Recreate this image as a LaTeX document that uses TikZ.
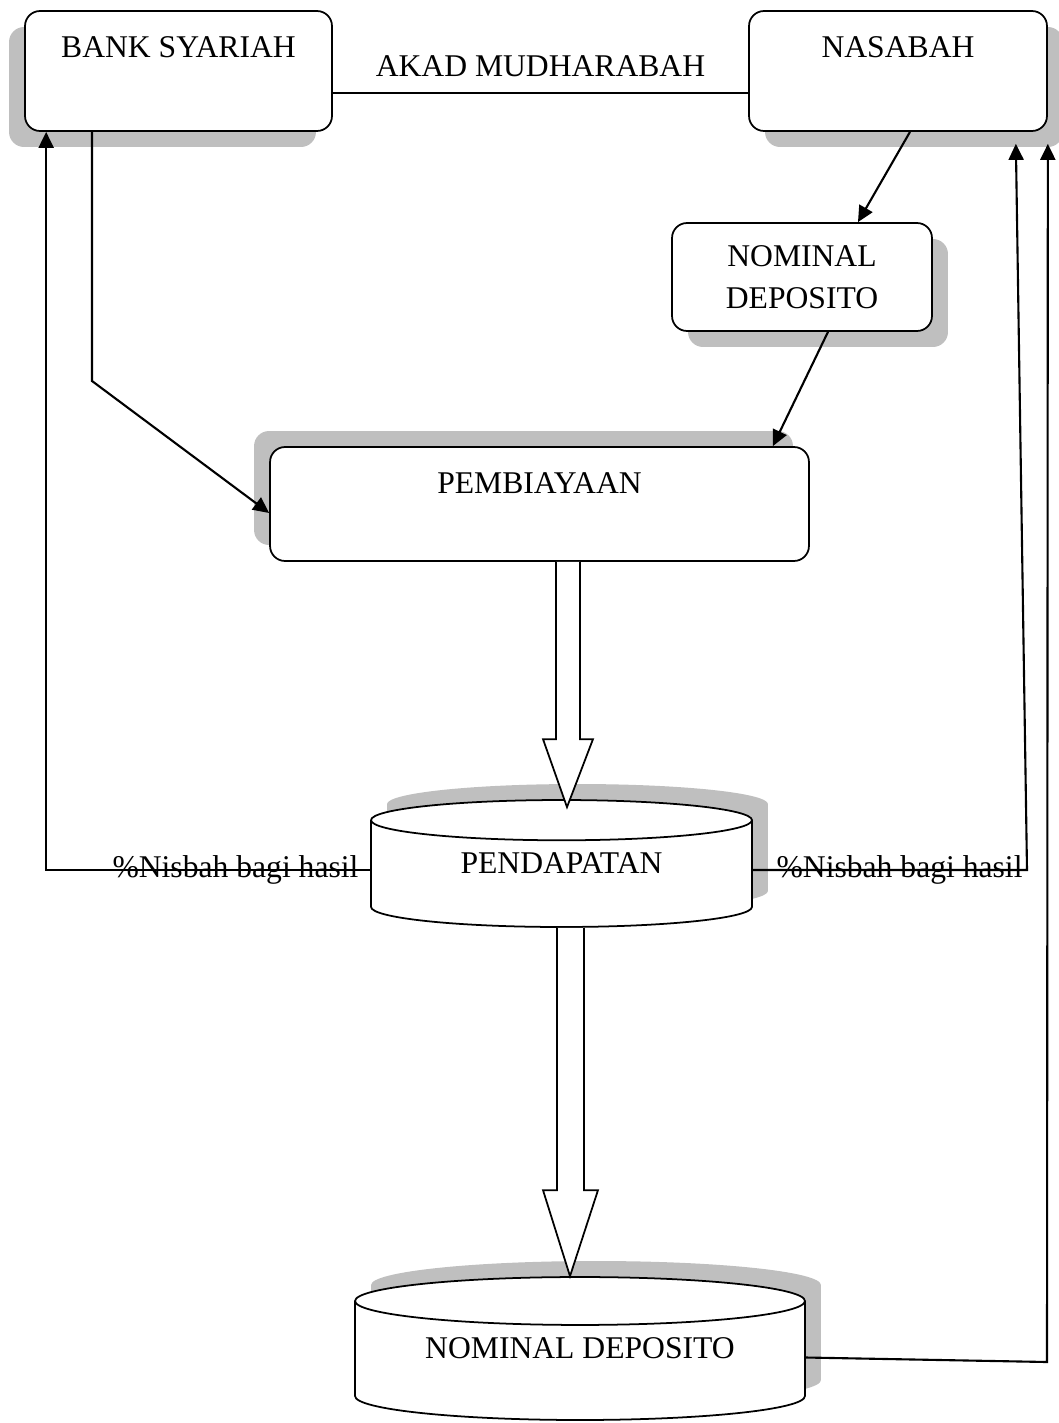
\documentclass[tikz,border=0pt]{standalone}
\usepackage{fontspec}
\setmainfont{Liberation Serif}
\usetikzlibrary{arrows.meta, positioning, calc, shapes.geometric, shadows}

\begin{document}
\begin{tikzpicture}[x=0.02cm, y=-0.02cm, font=\fontsize{18}{24}\selectfont,
  box/.style={draw, line width=1pt, rounded corners=0.3cm, fill=white, align=center},
  topbox/.style={box, inner xsep=0.2cm, inner ysep=0.5cm, text height=0.42cm},
  drum/.style={cylinder, shape border rotate=90, draw, line width=1pt, fill=white, aspect=0.19, inner sep=0.1cm, anchor=shape center},
  shade sw/.style={drop shadow={shadow xshift=-0.32cm, shadow yshift=-0.32cm, fill=black!25, opacity=1}},
  shade se/.style={drop shadow={shadow xshift=0.32cm, shadow yshift=-0.32cm, fill=black!25, opacity=1}},
  shade nw/.style={drop shadow={shadow xshift=-0.32cm, shadow yshift=0.32cm, fill=black!25, opacity=1}},
  shade ne/.style={drop shadow={shadow xshift=0.32cm, shadow yshift=0.32cm, fill=black!25, opacity=1}},
  link/.style={line width=1pt},
  flow/.style={-{Triangle[length=0.32cm, width=0.3cm]}, line width=1.2pt},
  fat/.style={draw, fill=white, line width=1pt}]
\useasboundingbox (0,0) rectangle (1058,1423);

% top row
\node[topbox, shade sw, minimum width=6.14cm, text depth=0.98cm] (bank) at (178.5,71) {BANK SYARIAH};
\node[topbox, shade se, minimum width=5.96cm, text depth=0.98cm] (nasabah) at (898,71) {NASABAH};
\draw[link] ([yshift=-0.44cm]bank.east) -- node[above=0.18cm] (akad) {AKAD MUDHARABAH} ([yshift=-0.44cm]nasabah.west);

% deposito and financing
\node[box, shade se, minimum width=5.2cm, minimum height=2.16cm] (nomdep) at (802,277) {NOMINAL\\DEPOSITO};
\node[topbox, shade nw, minimum width=10.78cm, text depth=0.86cm] (pemb) at (539.5,504) {PEMBIAYAAN};
\draw[flow] ([xshift=0.24cm]nasabah.south) -- ([xshift=1.12cm]nomdep.north);
\draw[flow] ([xshift=0.52cm]nomdep.south) -- ([xshift=-0.74cm]pemb.north east);
\coordinate (bend) at (92,381);
\draw[flow] ([xshift=-1.73cm]bank.south) -- (bend) -- ([yshift=-0.18cm]pemb.west);

% income and result (phantom keeps the drum ends, text sits in the middle)
\node[drum, shade ne, minimum width=7.62cm, minimum height=2.54cm] (pend) at (561.5,863.5) {\phantom{PENDAPATAN}};
\node (pendtext) at (pend.shape center) {PENDAPATAN};
\node[drum, shade ne, aspect=0.15, minimum width=9cm, minimum height=2.86cm] (nomcyl) at (580,1348.5) {\phantom{NOMINAL DEPOSITO}};
\node (nomtext) at (nomcyl.shape center) {NOMINAL DEPOSITO};

\draw[fat] let \p1=([xshift=0.57cm]pemb.south), \p2=([xshift=0.11cm,yshift=-0.16cm]pend.north) in
  (\x1-0.24cm,\y1) -- (\x1-0.24cm,\y2+1.36cm) -- (\x1-0.5cm,\y2+1.36cm) -- (\p2)
  -- (\x1+0.5cm,\y2+1.36cm) -- (\x1+0.24cm,\y2+1.36cm) -- (\x1+0.24cm,\y1);
\draw[fat] let \p1=([xshift=0.18cm]pend.south), \p2=([xshift=-0.2cm]nomcyl.north) in
  (\x1-0.27cm,\y1) -- (\x1-0.27cm,\y2+1.72cm) -- (\x1-0.55cm,\y2+1.72cm) -- (\p2)
  -- (\x1+0.55cm,\y2+1.72cm) -- (\x1+0.27cm,\y2+1.72cm) -- (\x1+0.27cm,\y1);

% profit sharing back to both sides
\coordinate (pl) at ($(pend.shape center -| pend.west)+(0,6.5)$);
\coordinate (pr) at ($(pend.shape center -| pend.east)+(0,6.5)$);
\coordinate (nr) at ($(nomcyl.shape center -| nomcyl.east)+(0,9)$);
\coordinate (rc) at (1027,870);
\coordinate (rb) at (1047,1362);
\draw[flow] (pl) -| ([xshift=0.44cm]bank.south west);
\node[left=0.11cm of pl] (nisbahL) {\%Nisbah bagi hasil};
\draw[flow] (pr) -- (rc) -- ([xshift=-0.64cm, yshift=-0.24cm]nasabah.south east);
\node[right=0.35cm of pr] (nisbahR) {\%Nisbah bagi hasil};
\draw[flow] (nr) -- (rb) -- ([yshift=-0.24cm]nasabah.south east);
\end{tikzpicture}
\end{document}
